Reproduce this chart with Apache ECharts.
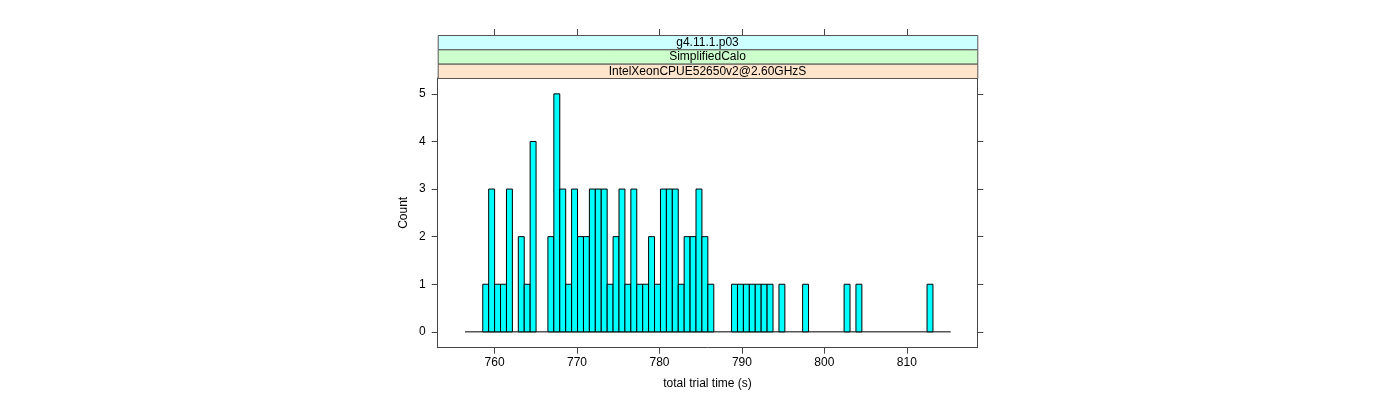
<!DOCTYPE html>
<html>
<head>
<meta charset="utf-8">
<script src="https://cdn.jsdelivr.net/npm/echarts@6/dist/echarts.min.js"></script>
<style>
html,body{margin:0;padding:0;background:#fff;}
#chart{width:1400px;height:400px;}
</style>
</head>
<body>
<div id="chart"></div>
<script>
// ---- data ----
const stripLabels = ['g4.11.1.p03', 'SimplifiedCalo', 'IntelXeonCPUE52650v2@2.60GHzS'];
const stripColors = ['#CCFFFF', '#CCFFCC', '#FFE5CC'];
const binStart = 756.41;      // left edge of first histogram bin (s)
const binWidth = 0.7185;      // bin width (s)
const counts = [
  0, 0, 0,
  1, 3, 1, 1, 3, 0, 2, 1, 4, 0, 0, 2, 5, 3, 1, 3, 2, 2,
  3, 3, 3, 1, 2, 3, 1, 3, 1, 1, 2, 1, 3, 3, 3, 1, 2, 2, 3, 2, 1,
  0, 0, 0, 1, 1, 1, 1, 1, 1, 1, 0, 1, 0, 0, 0, 1,
  0, 0, 0, 0, 0, 0, 1, 0, 1,
  0, 0, 0, 0, 0, 0, 0, 0, 0, 0, 0, 1, 0, 0, 0
];
const xTicks = [760, 770, 780, 790, 800, 810];
const yTicks = [0, 1, 2, 3, 4, 5];
const xLimits = [753.10, 818.55];
const yLimits = [-0.333, 5.333];
const xTitle = 'total trial time (s)';
const yTitle = 'Count';

// ---- build ----
const barData = counts.map((c, i) => [binStart + i * binWidth, binStart + (i + 1) * binWidth, c]);
const binEnd = binStart + counts.length * binWidth;

const FONT = '"Liberation Sans", Arial, Helvetica, sans-serif';
const AXC = '#444';

const gridL = 437.7, gridT = 78, gridW = 539.6, gridH = 269.7;
const stripH = 14.33;
const nStrip = stripLabels.length;

const graphics = [];
stripLabels.forEach((lab, k) => {
  const top = gridT - (nStrip - k) * stripH;
  graphics.push({
    type: 'rect', left: gridL, top: top, z: 10,
    shape: { width: gridW, height: stripH },
    style: { fill: stripColors[k], stroke: '#555', lineWidth: 1 }
  });
  graphics.push({
    type: 'text', x: gridL + gridW / 2, y: top + stripH / 2 + 0.5, z: 11,
    style: { text: lab, fill: '#000', font: '12px ' + FONT, textAlign: 'center', textVerticalAlign: 'middle' }
  });
});

const chart = echarts.init(document.getElementById('chart'), null, { renderer: 'canvas' });
chart.setOption({
  animation: false,
  backgroundColor: '#fff',
  grid: { left: gridL, top: gridT, width: gridW, height: gridH, show: false },
  graphic: graphics,
  xAxis: [{
    type: 'value', min: xLimits[0], max: xLimits[1], position: 'bottom',
    name: xTitle, nameLocation: 'middle', nameGap: 30,
    nameTextStyle: { color: '#000', fontFamily: FONT, fontSize: 12 },
    axisLine: { show: true, onZero: false, lineStyle: { color: AXC, width: 1 } },
    axisTick: { show: true, inside: false, length: 6, customValues: xTicks, lineStyle: { color: AXC } },
    axisLabel: { show: true, margin: 9, customValues: xTicks, color: '#000', fontFamily: FONT, fontSize: 12 },
    splitLine: { show: false }
  }, {
    type: 'value', min: xLimits[0], max: xLimits[1], position: 'top', offset: nStrip * stripH,
    axisLine: { show: false, onZero: false },
    axisTick: { show: true, inside: false, length: 6, customValues: xTicks, lineStyle: { color: AXC } },
    axisLabel: { show: false },
    splitLine: { show: false }
  }],
  yAxis: [{
    type: 'value', min: yLimits[0], max: yLimits[1], position: 'left',
    name: yTitle, nameLocation: 'middle', nameGap: 28, nameRotate: 90,
    nameTextStyle: { color: '#000', fontFamily: FONT, fontSize: 12 },
    axisLine: { show: true, onZero: false, lineStyle: { color: AXC, width: 1 } },
    axisTick: { show: true, inside: false, length: 6, customValues: yTicks, lineStyle: { color: AXC } },
    axisLabel: { show: true, margin: 12, customValues: yTicks, color: '#000', fontFamily: FONT, fontSize: 12 },
    splitLine: { show: false }
  }, {
    type: 'value', min: yLimits[0], max: yLimits[1], position: 'right',
    axisLine: { show: true, onZero: false, lineStyle: { color: AXC, width: 1 } },
    axisTick: { show: true, inside: false, length: 6, customValues: yTicks, lineStyle: { color: AXC } },
    axisLabel: { show: false },
    splitLine: { show: false }
  }],
  series: [{
    type: 'line',
    data: [[binStart, 0], [binEnd, 0]],
    xAxisIndex: 0, yAxisIndex: 0,
    symbol: 'none', silent: true,
    lineStyle: { color: '#000', width: 1 },
    z: 2
  }, {
    type: 'custom',
    xAxisIndex: 0, yAxisIndex: 0,
    data: barData,
    z: 3,
    renderItem: function (params, api) {
      const c = api.value(2);
      if (!c) return null;
      const p0 = api.coord([api.value(0), 0]);
      const p1 = api.coord([api.value(1), c]);
      return {
        type: 'rect',
        shape: { x: p0[0], y: p1[1], width: p1[0] - p0[0], height: p0[1] - p1[1] },
        style: { fill: '#00FFFF', stroke: '#000', lineWidth: 1 }
      };
    }
  }]
});
</script>
</body>
</html>
